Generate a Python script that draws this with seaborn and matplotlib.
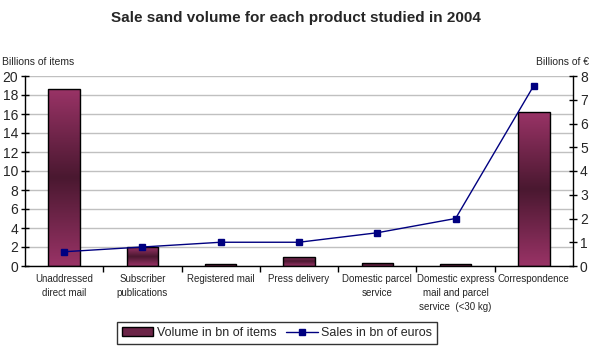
import numpy as np
import pandas as pd
import matplotlib
matplotlib.use("Agg")
import matplotlib.pyplot as plt
import seaborn as sns
from matplotlib.colors import LinearSegmentedColormap
from matplotlib.lines import Line2D
from matplotlib.patches import Patch

categories = ["Unaddressed\ndirect mail", "Subscriber\npublications", "Registered mail",
              "Press delivery", "Domestic parcel\nservice",
              "Domestic express\nmail and parcel\nservice  (<30 kg)", "Correspondence"]
volume = [18.6, 2.0, 0.2, 1.0, 0.3, 0.2, 16.2]
sales = [0.6, 0.8, 1.0, 1.0, 1.4, 2.0, 7.6]
left_ticks = list(range(0, 21, 2))
right_ticks = list(range(0, 9))

sns.set_theme(style="white")
plt.rcParams['font.family'] = ['Liberation Sans', 'DejaVu Sans']

fig = plt.figure(figsize=(5.91, 3.48), dpi=100)
ax = fig.add_axes([25/591, (348-266)/348, 548/591, 190/348])

df = pd.DataFrame({"cat": categories, "volume": volume})
sns.barplot(data=df, x="cat", y="volume", ax=ax, color="#993366", width=0.4,
            edgecolor="black", linewidth=1.0, saturation=1, zorder=2)

cmap = LinearSegmentedColormap.from_list("g", ["#993366", "#4a1830", "#993366"])
grad = np.linspace(0, 1, 256).reshape(-1, 1)
for p in ax.patches:
    x0, y0 = p.get_x(), p.get_y()
    w, h = p.get_width(), p.get_height()
    im = ax.imshow(grad, cmap=cmap, aspect="auto", extent=[x0, x0 + w, y0, y0 + h],
                   origin="lower", zorder=2.5)
    im.set_clip_path(p)
    p.set_facecolor("none")
    p.set_zorder(3)

ax.set_xlim(-0.5, len(categories) - 0.5)
ax.set_ylim(0, 20)
ax.set_yticks(left_ticks)
ax.set_yticklabels([str(t) for t in left_ticks], fontsize=10)
ax.yaxis.grid(True, color="#c0c0c0", linewidth=1, zorder=0)
ax.set_axisbelow(True)
ax.set_xlabel("")
ax.set_ylabel("")
ax.set_xticks(np.arange(0.5, len(categories) - 1, 1), minor=False)
ax.set_xticklabels([])
ax.set_xticks(range(len(categories)), minor=True)
ax.set_xticklabels(categories, minor=True, fontsize=7, linespacing=1.5)
ax.tick_params(axis="x", which="major", direction="out", length=4, color="black", width=1, bottom=True)
ax.tick_params(axis="x", which="minor", length=0, pad=6)
ax.tick_params(axis="y", direction="inout", length=6, color="black", width=1, left=True, pad=2)
for s in ["top", "right"]:
    ax.spines[s].set_visible(False)
for s in ["left", "bottom"]:
    ax.spines[s].set_color("black")
    ax.spines[s].set_linewidth(1)

ax2 = ax.twinx()
ax2.plot(range(len(categories)), sales, color="#000080", linewidth=1, marker="s",
         markersize=5, markerfacecolor="#000080", zorder=4)
ax2.set_ylim(0, 8)
ax2.set_yticks(right_ticks)
ax2.set_yticklabels([str(t) for t in right_ticks], fontsize=10)
ax2.tick_params(axis="y", direction="inout", length=6, color="black", width=1, right=True, pad=2)
for s in ["top", "left", "bottom"]:
    ax2.spines[s].set_visible(False)
ax2.spines["right"].set_color("black")
ax2.spines["right"].set_linewidth(1)
ax2.grid(False)

fig.text(0.5, 1 - 18/348, "Sale sand volume for each product studied in 2004",
         ha="center", va="center", fontsize=11, fontweight="bold")
fig.text(2/591, 1 - 62/348, "Billions of items", ha="left", va="center", fontsize=7.5)
fig.text(536/591, 1 - 62/348, "Billions of €", ha="left", va="center", fontsize=7.5)

handles = [Patch(facecolor="#6b2447", edgecolor="black", linewidth=1),
           Line2D([0], [0], color="#000080", marker="s", markersize=4, linewidth=1)]
leg = fig.legend(handles, ["Volume in bn of items", "Sales in bn of euros"],
                 loc="center", bbox_to_anchor=(277/591, 1 - 333/348), ncol=2,
                 fontsize=9, frameon=True, fancybox=False, edgecolor="black",
                 handlelength=2.5, handletextpad=0.3, columnspacing=0.8,
                 borderpad=0.4)
leg.get_frame().set_linewidth(1)

fig.savefig("out.png", dpi=100)
